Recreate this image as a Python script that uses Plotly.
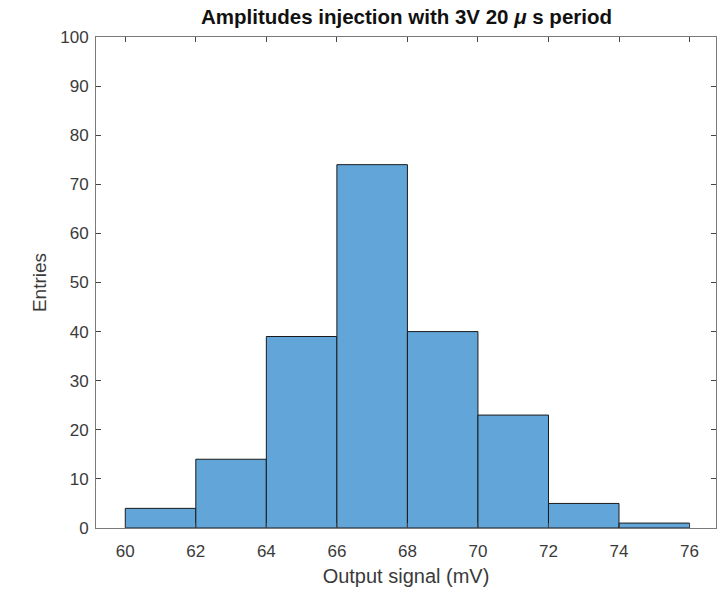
import plotly.graph_objects as go

bin_edges = [60, 62, 64, 66, 68, 70, 72, 74, 76]
counts = [4, 14, 39, 74, 40, 23, 5, 1]
x_ticks = [60, 62, 64, 66, 68, 70, 72, 74, 76]
y_ticks = [0, 10, 20, 30, 40, 50, 60, 70, 80, 90, 100]

centers = [(a + b) / 2 for a, b in zip(bin_edges[:-1], bin_edges[1:])]
widths = [b - a for a, b in zip(bin_edges[:-1], bin_edges[1:])]

FONT = "Liberation Sans, Arial, Helvetica"

fig = go.Figure(go.Bar(
    x=centers, y=counts, width=widths,
    marker=dict(color="#62A6D9", line=dict(color="#1a1a1a", width=1)),
))

axis_common = dict(
    showline=True, linecolor="#7a7a7a", linewidth=1, mirror="ticks",
    ticks="inside", ticklen=5, tickcolor="#444", showgrid=False, zeroline=False,
    tickfont=dict(family=FONT, size=17, color="#3a3a3a"),
)

fig.update_layout(
    width=722, height=589,
    margin=dict(l=96, r=6, t=37, b=61),
    paper_bgcolor="white", plot_bgcolor="white",
    showlegend=False,
    title=dict(text="<b>Amplitudes injection with 3V 20 <i>μ</i> s period</b>",
               x=0.563, xanchor="center", y=0.971, yanchor="middle",
               font=dict(family=FONT, size=20.5, color="#111")),
    xaxis=dict(range=[59.17, 76.75], tickvals=x_ticks, ticklabelstandoff=8,
               title=dict(text="Output signal (mV)", standoff=8,
                          font=dict(family=FONT, size=20, color="#3a3a3a")),
               **axis_common),
    yaxis=dict(range=[0, 100], tickvals=y_ticks, ticklabelstandoff=3,
               title=dict(text="Entries", standoff=8,
                          font=dict(family=FONT, size=19, color="#3a3a3a")),
               **axis_common),
)

fig.write_html("out.html")
